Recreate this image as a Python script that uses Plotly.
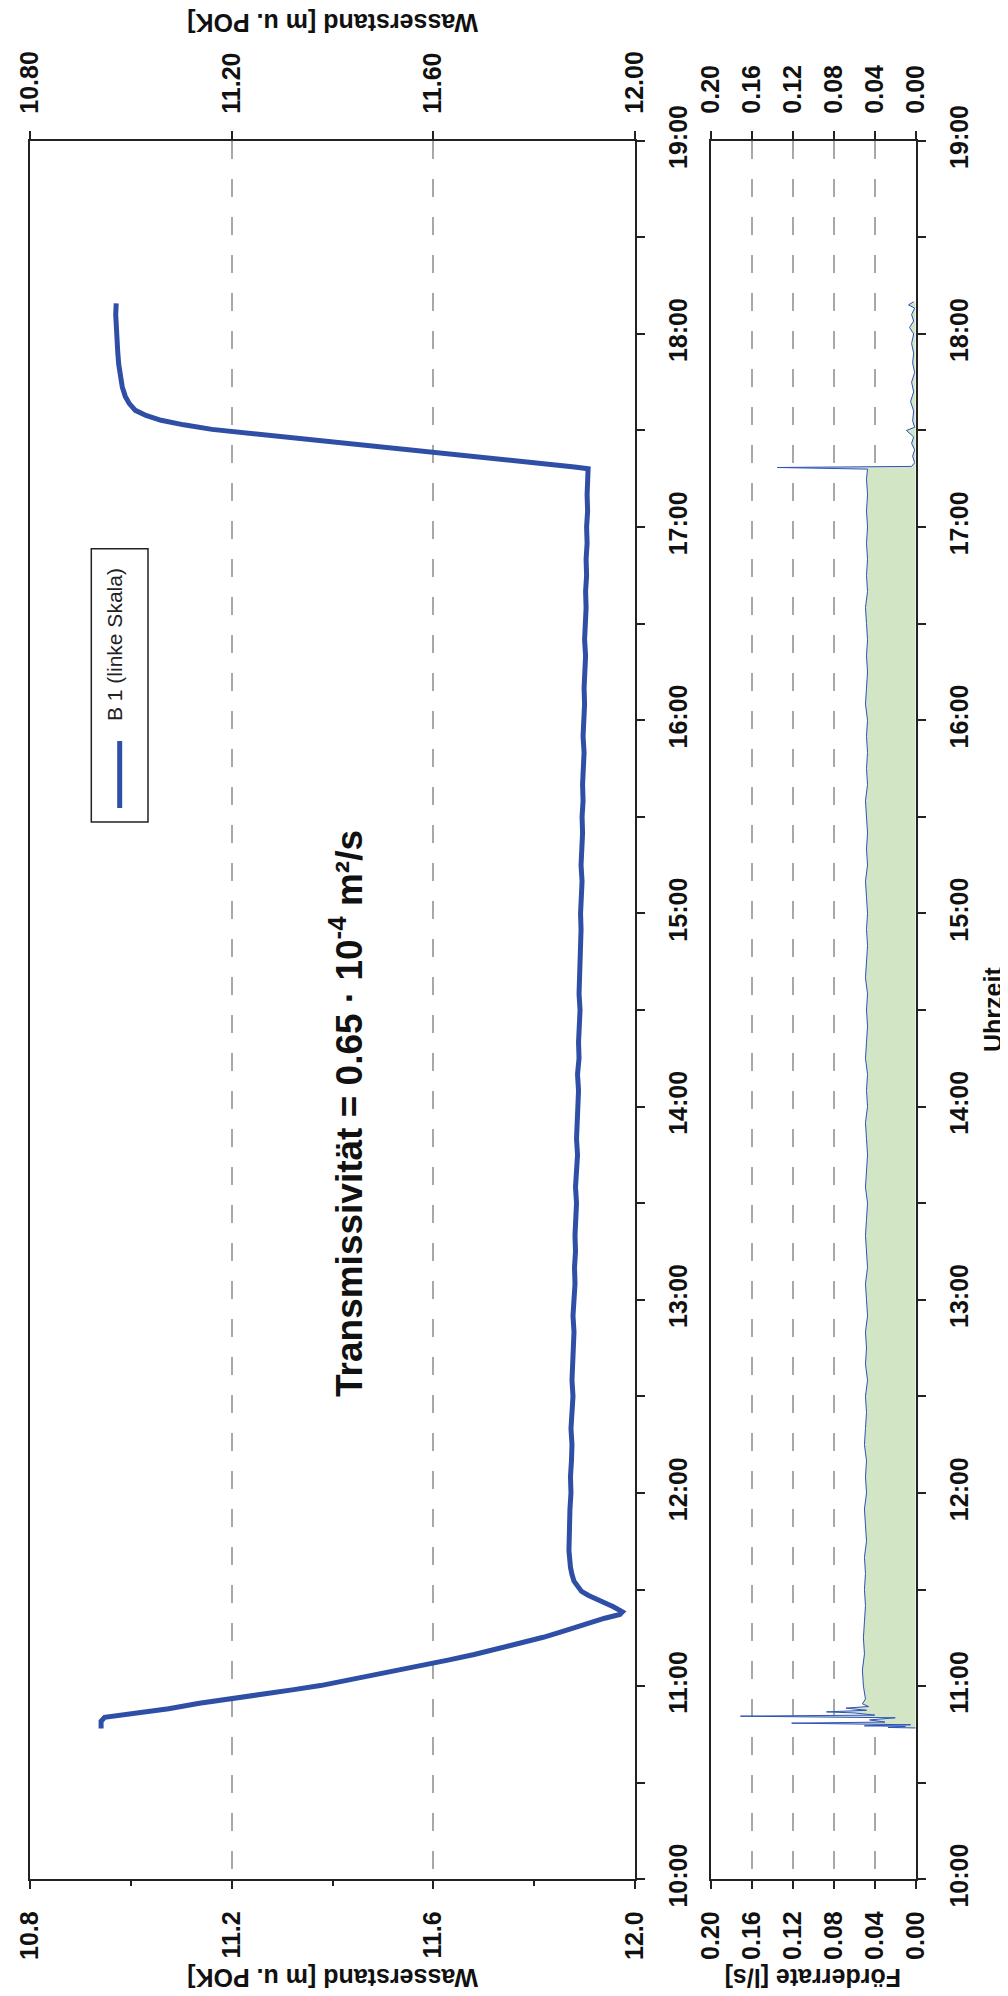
import plotly.graph_objects as go

DAY = "2000-01-01 "

# ---- water level B 1 (m u. POK) ----
level_times = [
    "10:46:48", "10:49:06", "10:50:18", "10:50:50", "10:51:30", "10:53:00", "10:54:40",
    "10:56:00", "10:57:25", "10:58:50", "11:00:10", "11:02:20", "11:04:30", "11:06:20",
    "11:08:05", "11:09:50", "11:11:40", "11:13:20", "11:15:10", "11:16:45", "11:18:20",
    "11:19:45", "11:21:05", "11:22:17", "11:23:05", "11:24:40", "11:25:50", "11:27:00",
    "11:28:10", "11:29:25", "11:31:00", "11:32:35", "11:34:40", "11:36:55", "11:42:05",
    "11:46:50",
    "11:50", "11:55", "12:00", "12:05", "12:10", "12:15", "12:20", "12:25", "12:30", "12:35",
    "12:40", "12:45", "12:50", "12:55", "13:00", "13:05", "13:10", "13:15", "13:20", "13:25",
    "13:30", "13:35", "13:40", "13:45", "13:50", "13:55", "14:00", "14:05", "14:10", "14:15",
    "14:20", "14:25", "14:30", "14:35", "14:40", "14:45", "14:50", "14:55", "15:00", "15:05",
    "15:10", "15:15", "15:20", "15:25", "15:30", "15:35", "15:40", "15:45", "15:50", "15:55",
    "16:00", "16:05", "16:10", "16:15", "16:20", "16:25", "16:30", "16:35", "16:40", "16:45",
    "16:50", "16:55", "17:00", "17:05", "17:10", "17:15",
    "17:18:06", "17:18:40", "17:19:40", "17:21:00", "17:22:05", "17:23:30", "17:24:50",
    "17:26:10", "17:27:35", "17:29:00", "17:30:20", "17:31:45", "17:33:10", "17:34:40",
    "17:36:15", "17:38:20", "17:40:35", "17:43:30", "17:46:35", "17:50:30", "17:54:30",
    "17:58:30", "18:02:25", "18:06:00", "18:09:30",
]
level_values = [
    10.941, 10.941, 10.948, 10.975, 11.009, 11.075, 11.136,
    11.200, 11.262, 11.320, 11.376, 11.448, 11.515, 11.574,
    11.629, 11.681, 11.730, 11.776, 11.818, 11.852, 11.882,
    11.912, 11.940, 11.970, 11.975, 11.957, 11.940, 11.925,
    11.908, 11.894, 11.885, 11.879, 11.875, 11.872, 11.869,
    11.869,
    11.870, 11.871, 11.873, 11.872, 11.874, 11.875, 11.873, 11.876, 11.877, 11.875,
    11.876, 11.878, 11.879, 11.877, 11.879, 11.881, 11.880, 11.882, 11.881, 11.883,
    11.884, 11.882, 11.885, 11.886, 11.884, 11.886, 11.887, 11.888, 11.886, 11.889,
    11.888, 11.890, 11.891, 11.889, 11.890, 11.892, 11.891, 11.893, 11.892, 11.894,
    11.895, 11.893, 11.895, 11.896, 11.895, 11.897, 11.896, 11.898, 11.899, 11.897,
    11.899, 11.900, 11.899, 11.901, 11.902, 11.900, 11.902, 11.903, 11.902, 11.904,
    11.903, 11.905, 11.904, 11.906, 11.905, 11.907,
    11.907, 11.880, 11.818, 11.740, 11.667, 11.580, 11.490,
    11.400, 11.313, 11.230, 11.161, 11.105, 11.060, 11.030,
    11.009, 10.997, 10.989, 10.983, 10.979, 10.976, 10.974,
    10.972, 10.971, 10.970, 10.971,
]

# ---- pumping rate (l/s) ----
rate_times = [
    "10:47:00", "10:47:10", "10:47:30", "10:47:40", "10:48:00", "10:48:30", "10:48:50",
    "10:49:30", "10:50:10", "10:50:40", "10:51:00", "10:51:40", "10:52:00", "10:52:30",
    "10:53:10", "10:53:40", "10:54:30", "10:56:00",
    "11:00", "11:05", "11:10", "11:15", "11:20", "11:25", "11:30", "11:35", "11:40", "11:45",
    "11:50", "11:55", "12:00", "12:05", "12:10", "12:15", "12:20", "12:25", "12:30", "12:35",
    "12:40", "12:45", "12:50", "12:55", "13:00", "13:05", "13:10", "13:15", "13:20", "13:25",
    "13:30", "13:35", "13:40", "13:45", "13:50", "13:55", "14:00", "14:05", "14:10", "14:15",
    "14:20", "14:25", "14:30", "14:35", "14:40", "14:45", "14:50", "14:55", "15:00", "15:05",
    "15:10", "15:15", "15:20", "15:25", "15:30", "15:35", "15:40", "15:45", "15:50", "15:55",
    "16:00", "16:05", "16:10", "16:15", "16:20", "16:25", "16:30", "16:35", "16:40", "16:45",
    "16:50", "16:55", "17:00", "17:05", "17:10", "17:15",
    "17:18:00", "17:18:30", "17:18:50", "17:20", "17:22", "17:24", "17:26", "17:28", "17:30",
    "17:31", "17:33", "17:36", "17:39", "17:42", "17:45", "17:48", "17:51", "17:54", "17:57",
    "18:00", "18:02", "18:04", "18:06", "18:08", "18:09", "18:10",
]
rate_values = [
    0.000, 0.027, 0.010, 0.050, 0.005, 0.121, 0.030,
    0.045, 0.020, 0.171, 0.040, 0.060, 0.087, 0.048,
    0.068, 0.046, 0.052, 0.049,
    0.051, 0.052, 0.050, 0.051, 0.050, 0.049, 0.050, 0.049, 0.050, 0.048,
    0.049, 0.050, 0.048, 0.049, 0.048, 0.050, 0.049, 0.048, 0.049, 0.047,
    0.049, 0.048, 0.049, 0.047, 0.048, 0.049, 0.047, 0.048, 0.049, 0.048,
    0.047, 0.049, 0.048, 0.047, 0.048, 0.049, 0.047, 0.048, 0.047, 0.049,
    0.048, 0.047, 0.048, 0.047, 0.049, 0.048, 0.047, 0.048, 0.047, 0.048,
    0.049, 0.047, 0.048, 0.047, 0.048, 0.049, 0.047, 0.048, 0.047, 0.048,
    0.047, 0.049, 0.048, 0.047, 0.048, 0.047, 0.048, 0.049, 0.047, 0.048,
    0.047, 0.048, 0.047, 0.048, 0.047, 0.048,
    0.047, 0.135, 0.004, 0.001, 0.003, 0.001, 0.004, 0.002, 0.009,
    0.001, 0.003, 0.002, 0.005, 0.002, 0.004, 0.001, 0.003, 0.002, 0.004,
    0.002, 0.006, 0.002, 0.004, 0.001, 0.007, 0.002,
]

# ---- axis ticks / labels ----
wl_ticks = [10.8, 11.2, 11.6, 12.0]
wl_minor = [11.0, 11.4, 11.8]
wl_labels_bottom = ["10.8", "11.2", "11.6", "12.0"]
wl_labels_top = ["10.80", "11.20", "11.60", "12.00"]
rate_ticks = [0.20, 0.16, 0.12, 0.08, 0.04, 0.00]
rate_labels = ["0.20", "0.16", "0.12", "0.08", "0.04", "0.00"]
time_range = ["10:00", "19:00"]

W, H = 1008, 1996


def px(x):
    return x / W


def py(y):
    return 1 - y / H


BLUE = "#2f4fa6"
BLUE_THIN = "#2d52b8"
GREEN = "#d2e5c5"
DARK = "#222222"
GRID = "#a8a8a8"
FONT = "Liberation Sans, Arial, sans-serif"
tickfont = dict(family=FONT, size=25, color="#111111", weight="bold")

fig = go.Figure()
fig.add_trace(go.Scatter(
    x=level_values, y=[DAY + t for t in level_times], mode="lines",
    line=dict(color=BLUE, width=5), xaxis="x", yaxis="y", name="B 1 (linke Skala)"))
fig.add_trace(go.Scatter(
    x=rate_values, y=[DAY + t for t in rate_times], mode="lines",
    fill="tozerox", fillcolor=GREEN, line=dict(color=BLUE_THIN, width=1),
    xaxis="x2", yaxis="y2", name="Förderrate"))
# carrier traces so that the secondary (top) scales are drawn
fig.add_trace(go.Scatter(x=[None], y=[None], xaxis="x3", yaxis="y", showlegend=False,
                         hoverinfo="skip"))
fig.add_trace(go.Scatter(x=[None], y=[None], xaxis="x4", yaxis="y2", showlegend=False,
                         hoverinfo="skip"))

ydom = [py(1871.3), py(132.7)]
dom1 = [px(22), px(627)]
dom2 = [px(702.7), px(907.7)]

common_x = dict(
    tickmode="array", tickangle=-90, ticks="outside", ticklen=8, tickwidth=2,
    tickcolor=DARK, showline=True, linecolor=DARK, linewidth=2, zeroline=False,
    tickfont=tickfont, automargin=False, ticklabelstandoff=12, fixedrange=True,
)
common_y = dict(
    type="date", range=[DAY + time_range[0], DAY + time_range[1]],
    tickformat="%H:%M", dtick=3600000, tick0=DAY + time_range[0], tickangle=-90,
    ticks="outside", ticklen=8, tickwidth=2, tickcolor=DARK, showline=True,
    linecolor=DARK, linewidth=2, mirror=True, showgrid=False, zeroline=False,
    side="right", tickfont=tickfont, automargin=False, ticklabelstandoff=12,
    minor=dict(dtick=1800000, tick0=DAY + time_range[0], ticks="outside",
               ticklen=8, tickwidth=2, tickcolor=DARK, showgrid=False),
    domain=ydom, fixedrange=True,
)

fig.update_layout(
    template="none",
    width=W, height=H,
    margin=dict(l=0, r=0, t=0, b=0),
    paper_bgcolor="white", plot_bgcolor="white",
    showlegend=False,
    xaxis=dict(domain=dom1, range=[10.8, 12.0], anchor="y", side="bottom",
               tickvals=wl_ticks, ticktext=wl_labels_bottom, mirror=True,
               showgrid=True, gridcolor=GRID, gridwidth=1.5, griddash="18px,20px",
               minor=dict(tickvals=wl_minor, ticks="outside", ticklen=5,
                          tickwidth=2, tickcolor=DARK, showgrid=False),
               **common_x),
    xaxis3=dict(overlaying="x", range=[10.8, 12.0], anchor="y", side="top",
                tickvals=wl_ticks, ticktext=wl_labels_top, showgrid=False,
                **common_x),
    xaxis2=dict(domain=dom2, range=[0.20, 0.0], anchor="y2", side="bottom",
                tickvals=rate_ticks, ticktext=rate_labels, mirror=True,
                showgrid=True, gridcolor=GRID, gridwidth=1.5, griddash="18px,20px",
                **common_x),
    xaxis4=dict(overlaying="x2", range=[0.20, 0.0], anchor="y2", side="top",
                tickvals=rate_ticks, ticktext=rate_labels, showgrid=False,
                **common_x),
    yaxis=dict(anchor="x", **common_y),
    yaxis2=dict(anchor="x2", **common_y),
)

title_font = dict(family=FONT, size=25, color="#111111", weight="bold")
annotations = [
    dict(text="Transmissivität = 0.65 · 10<sup>-4</sup> m²/s", x=px(338), y=py(1106),
         textangle=-90, font=dict(family=FONT, size=37, color="#111111", weight="bold")),
    dict(text="Uhrzeit", x=px(985), y=py(1002), textangle=-90, font=title_font),
    dict(text="Wasserstand [m u. POK]", x=px(325), y=py(1970), textangle=180, font=title_font),
    dict(text="Wasserstand [m u. POK]", x=px(325), y=py(15), textangle=180, font=title_font),
    dict(text="Förderrate [l/s]", x=px(805), y=py(1970), textangle=180, font=title_font),
    dict(text="B 1 (linke Skala)", x=px(106), y=py(637), textangle=-90,
         font=dict(family=FONT, size=21, color="#222222")),
]
for a in annotations:
    a.update(xref="paper", yref="paper", showarrow=False, xanchor="center", yanchor="middle")
fig.update_layout(annotations=annotations)

# legend frame and sample line (drawn manually because the chart is rotated)
fig.add_shape(type="rect", xref="paper", yref="paper", x0=px(83.3), x1=px(140),
              y0=py(814), y1=py(540.7), line=dict(color=DARK, width=1.5), fillcolor="white",
              layer="above")
fig.add_shape(type="line", xref="paper", yref="paper", x0=px(111.7), x1=px(111.7),
              y0=py(800), y1=py(733), line=dict(color=BLUE, width=5), layer="above")

fig.write_html("out.html")
